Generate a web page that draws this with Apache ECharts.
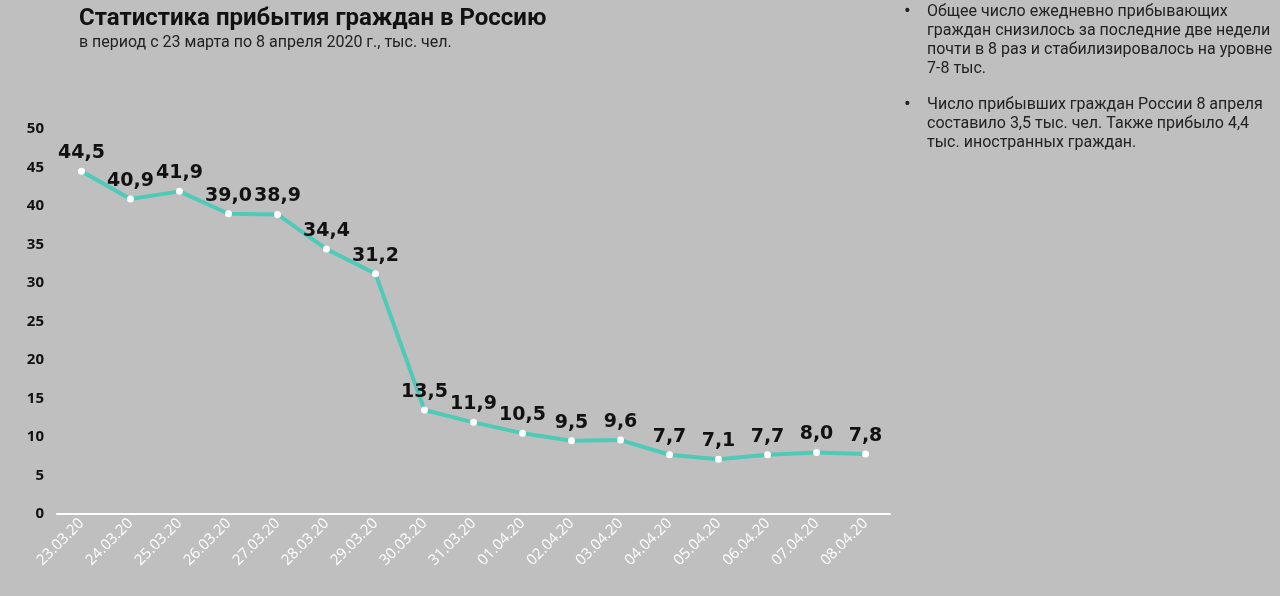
<!DOCTYPE html>
<html><head><meta charset="utf-8">
<script src="https://cdn.jsdelivr.net/npm/echarts@6/dist/echarts.min.js"></script>
<style>html,body{margin:0;padding:0;background:#bfbfbf}#c{width:1280px;height:596px}</style>
</head><body><div id="c"></div>
<script>
const categories = ['23.03.20','24.03.20','25.03.20','26.03.20','27.03.20','28.03.20','29.03.20','30.03.20','31.03.20','01.04.20','02.04.20','03.04.20','04.04.20','05.04.20','06.04.20','07.04.20','08.04.20'];
const values = [44.5,40.9,41.9,39.0,38.9,34.4,31.2,13.5,11.9,10.5,9.5,9.6,7.7,7.1,7.7,8.0,7.8];
const titleText = 'Статистика прибытия граждан в Россию';
const subtitleText = 'в период с 23 марта по 8 апреля 2020 г., тыс. чел.';
const bullet1 = ['Общее число ежедневно прибывающих','граждан снизилось за последние две недели','почти в 8 раз и стабилизировалось на уровне','7-8 тыс.'];
const bullet2 = ['Число прибывших граждан России 8 апреля','составило 3,5 тыс. чел. Также прибыло 4,4','тыс. иностранных граждан.'];

const chart = echarts.init(document.getElementById('c'));
const font = 'Roboto, "Noto Sans", sans-serif';
chart.setOption({
  backgroundColor: '#bfbfbf',
  animation: false,
  title: {
    text: titleText, subtext: subtitleText, left: 74, top: 2,
    textStyle: {fontFamily: font, fontSize: 24, fontWeight: 'bold', color: '#111'},
    subtextStyle: {fontFamily: font, fontSize: 16, color: '#222'}, itemGap: 4
  },
  graphic: [
    {type:'text', left: 904, top: 2, style:{text:'•', font:'20px '+font, fill:'#222'}},
    {type:'text', left: 927, top: 2, style:{text: bullet1.join('\n'), font:'16px '+font, fill:'#222', lineHeight: 19}},
    {type:'text', left: 904, top: 95, style:{text:'•', font:'20px '+font, fill:'#222'}},
    {type:'text', left: 927, top: 95, style:{text: bullet2.join('\n'), font:'16px '+font, fill:'#222', lineHeight: 19}}
  ],
  grid: {left: 57, right: 390, top: 129, bottom: 82},
  xAxis: {
    type: 'category', data: categories, boundaryGap: true,
    axisLine: {lineStyle: {color: '#fff', width: 2}},
    axisTick: {lineStyle: {color: '#fff', width: 2}, length: 5},
    axisLabel: {rotate: 45, color: '#fff', fontFamily: '"Open Sans", sans-serif', fontSize: 15, margin: 7}
  },
  yAxis: {
    type: 'value', min: 0, max: 50, interval: 5,
    axisLine: {show: false}, axisTick: {show: false}, splitLine: {show: false},
    axisLabel: {color: '#111', fontFamily: '"Open Sans", sans-serif', fontSize: 15, fontWeight: 'bold', margin: 13}
  },
  series: [{
    type: 'line', data: values,
    lineStyle: {color: '#4fcab7', width: 4},
    symbol: 'circle', symbolSize: 7,
    itemStyle: {color: '#fff', borderWidth: 0},
    label: {show: true, position: 'top', distance: 5, color: '#111', fontFamily: '"DejaVu Sans", sans-serif', fontSize: 19, fontWeight: 'bold',
      formatter: p => p.value.toFixed(1).replace('.', ',')}
  }]
});
</script></body></html>
